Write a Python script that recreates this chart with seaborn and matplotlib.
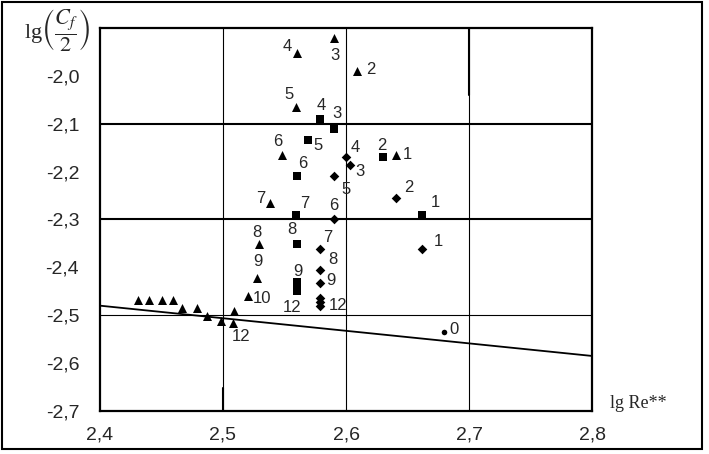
import numpy as np
import pandas as pd
import seaborn as sns
import matplotlib.pyplot as plt
from matplotlib.patches import Rectangle

# triangles
tri_x = [2.641, 2.609, 2.590, 2.560, 2.559, 2.548, 2.538, 2.529, 2.528, 2.520, 2.508,
         2.431, 2.440, 2.450, 2.459, 2.467, 2.479, 2.487, 2.498, 2.509]
tri_y = [-2.165, -1.990, -1.920, -1.953, -2.066, -2.165, -2.266, -2.351, -2.423, -2.460, -2.517,
         -2.468, -2.468, -2.468, -2.468, -2.484, -2.484, -2.502, -2.512, -2.492]
tri_lbl = ["1", "2", "3", "4", "5", "6", "7", "8", "9", "10", "12",
           "", "", "", "", "", "", "", "", ""]

# squares
sq_x = [2.662, 2.630, 2.590, 2.579, 2.569, 2.560, 2.559, 2.560, 2.560, 2.560, 2.560]
sq_y = [-2.290, -2.170, -2.110, -2.091, -2.133, -2.210, -2.290, -2.351, -2.430, -2.440, -2.450]
sq_lbl = ["1", "2", "3", "4", "5", "6", "7", "8", "9", "", "12"]

# diamonds
dia_x = [2.662, 2.641, 2.603, 2.600, 2.590, 2.590, 2.579, 2.579, 2.579, 2.579, 2.579, 2.579]
dia_y = [-2.361, -2.255, -2.186, -2.170, -2.210, -2.300, -2.361, -2.405, -2.432, -2.465, -2.473, -2.481]
dia_lbl = ["1", "2", "3", "4", "5", "6", "7", "8", "9", "", "", "12"]

# circle
circ_x = [2.680]
circ_y = [-2.535]
circ_lbl = ["0"]

# reference line
line_x = [2.4, 2.8]
line_y = [-2.48, -2.585]

x_ticks = [2.4, 2.5, 2.6, 2.7, 2.8]
x_ticklabels = ["2,4", "2,5", "2,6", "2,7", "2,8"]
y_ticks = [-2.7, -2.6, -2.5, -2.4, -2.3, -2.2, -2.1, -2.0]
y_ticklabels = ["-2,7", "-2,6", "-2,5", "-2,4", "-2,3", "-2,2", "-2,1", "-2,0"]

# label offsets in pixels (dx right, dy up)
tri_off = [(11, 0), (14, 2), (1, -18), (-10, 7), (-7, 13), (-4, 13), (-9, 5), (-2, 11),
           (0, 17), (14, -2), (8, -13)] + [(0, 0)] * 9
sq_off = [(13, 12), (-1, 12), (3, 15), (1, 14), (10, -6), (6, 13), (9, 11), (-5, 14),
          (1, 10), (0, 0), (-5, -16)]
dia_off = [(16, 7), (12, 10), (10, -7), (9, 10), (12, -13), (0, 14), (8, 11), (13, 10),
           (11, 2), (0, 0), (0, 0), (18, 1)]
circ_off = [(10, 3)]

sns.set_style("white")
plt.rcParams['font.family'] = ['Liberation Sans', 'DejaVu Sans']
plt.rcParams['mathtext.fontset'] = 'stix'

fig = plt.figure(figsize=(7.09, 4.54), dpi=100)
ax = fig.add_axes([100 / 709, 1 - 411 / 454, 492 / 709, 383 / 454])

# grid
for gy in [-2.1, -2.3]:
    ax.axhline(gy, color='black', lw=1.5, zorder=1)
ax.axhline(-2.5, color='black', lw=0.8, zorder=1)
for gx in [2.5, 2.6, 2.7]:
    ax.axvline(gx, color='black', lw=0.8, zorder=1)
ax.axvline(2.7, ymin=0.825, ymax=1.0, color='black', lw=1.5, zorder=1)
ax.axvline(2.5, ymin=0.0, ymax=0.06, color='black', lw=1.5, zorder=1)

sns.lineplot(x=line_x, y=line_y, color='black', lw=1.3, ax=ax, zorder=2)

series = [
    (tri_x, tri_y, tri_lbl, tri_off, '^', 42),
    (sq_x, sq_y, sq_lbl, sq_off, 's', 30),
    (dia_x, dia_y, dia_lbl, dia_off, 'D', 24),
    (circ_x, circ_y, circ_lbl, circ_off, 'o', 16),
]
for xs, ys, lbls, offs, mk, size in series:
    df = pd.DataFrame(dict(x=xs, y=ys))
    sns.scatterplot(data=df, x='x', y='y', marker=mk, s=size, color='black',
                    edgecolor='black', linewidth=0, ax=ax, zorder=3, legend=False)
    for xv, yv, t, (dx, dy) in zip(xs, ys, lbls, offs):
        if t:
            ax.annotate(t, (xv, yv), xytext=(dx, dy), textcoords='offset pixels',
                        ha='center', va='center', fontsize=12)

ax.set_xlim(2.4, 2.8)
ax.set_ylim(-2.7, -1.9)
ax.set_xticks(x_ticks)
ax.set_xticklabels(x_ticklabels)
ax.set_yticks(y_ticks)
ax.set_yticklabels(y_ticklabels)
ax.tick_params(axis='both', labelsize=14, length=3, width=0.8, direction='out')
ax.tick_params(axis='x', pad=8)
ax.tick_params(axis='y', pad=12)
ax.set_xlabel('')
ax.set_ylabel('')
for sp in ax.spines.values():
    sp.set_visible(True)
    sp.set_color('black')
    sp.set_linewidth(1.6)

fig.text(24 / 709, 1 - 30.5 / 454, r'lg$\left(\dfrac{C_f}{2}\right)$',
         family='Liberation Serif', fontsize=16, ha='left', va='center')
fig.text(610 / 709, 1 - 403 / 454, 'lg Re**', family='Liberation Serif',
         fontsize=13, ha='left', va='center')

fig.patches.append(Rectangle((1.5 / 709, 1 - 449 / 454), 700.5 / 709, 447.5 / 454,
                             transform=fig.transFigure, fill=False,
                             edgecolor='black', lw=1.5))

fig.savefig('out.png', dpi=100)
